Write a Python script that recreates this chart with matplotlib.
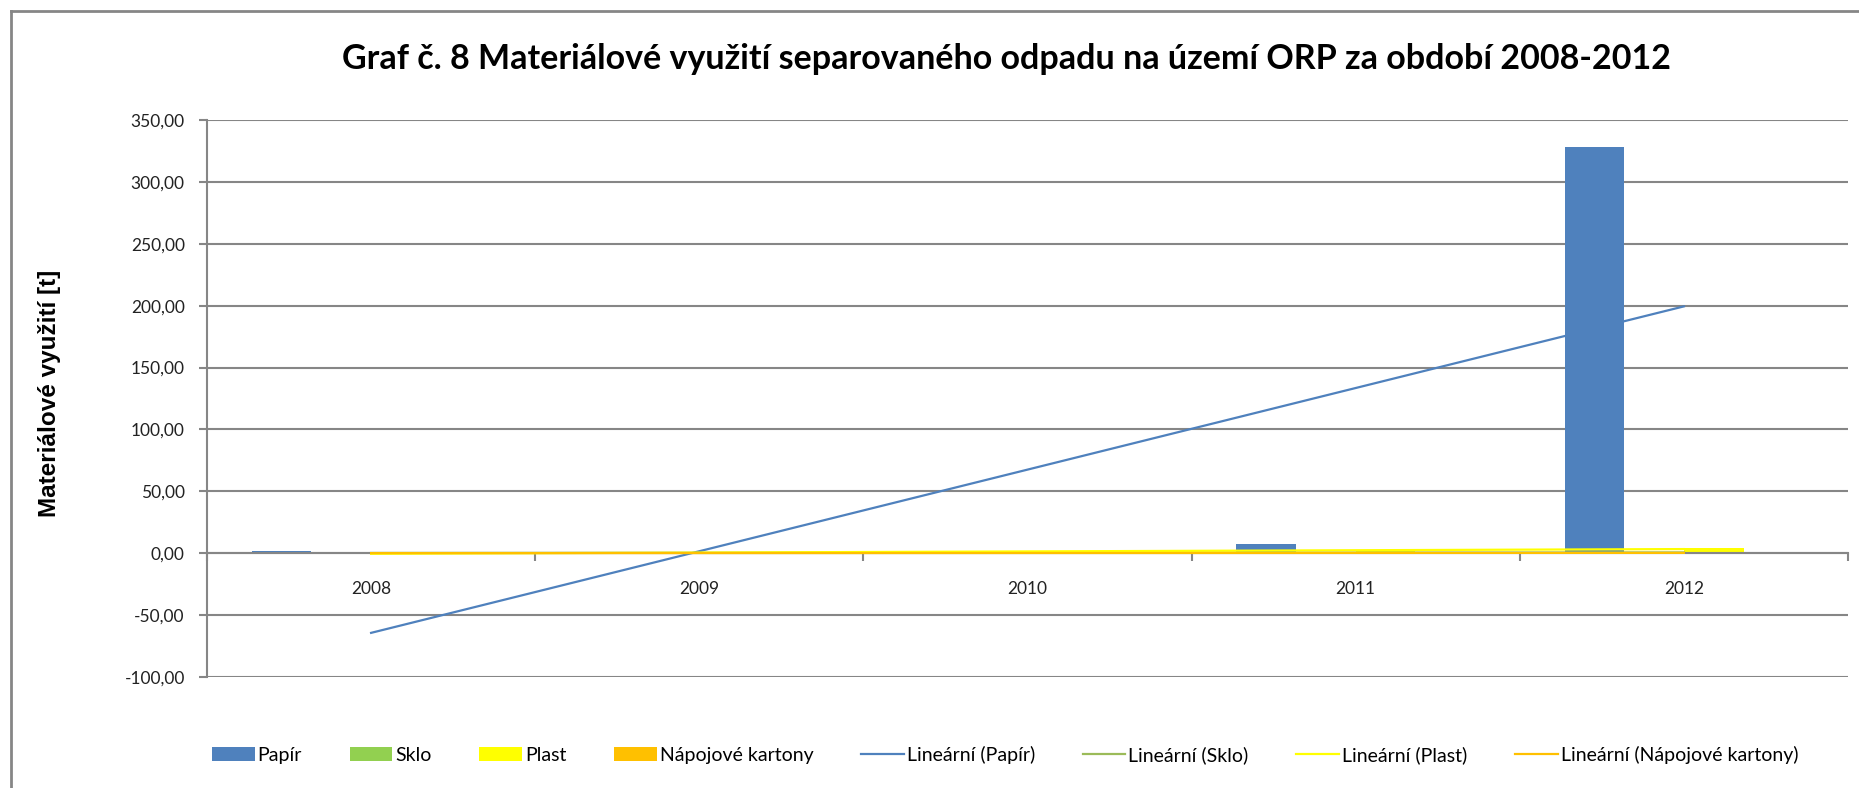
import numpy as np
import matplotlib.pyplot as plt
from matplotlib.ticker import FuncFormatter
from matplotlib.lines import Line2D

# data (t)
years = ['2008', '2009', '2010', '2011', '2012']
papir = [1.8, 0.3, 0.3, 7.3, 328.0]
sklo = [0.2, 0.3, 0.4, 0.5, 0.6]
plast = [0.3, 0.4, 0.6, 1.5, 4.5]
kartony = [0.1, 0.1, 0.2, 0.2, 0.3]

names = ['Papír', 'Sklo', 'Plast', 'Nápojové kartony']
bar_colors = ['#4F81BD', '#92D050', '#FFFF00', '#FFC000']
line_colors = ['#4F81BD', '#9BBB59', '#FFFF00', '#FFC000']
grey = '#868686'

plt.rcParams['font.family'] = ['Lato', 'DejaVu Sans']

W, H = 1859, 788
fig = plt.figure(figsize=(W / 100, H / 100), dpi=100)
ax = fig.add_axes([207 / W, 1 - 677 / H, (1848 - 207) / W, (677 - 120) / H])

x = np.arange(len(years))
w = 1 / 5.5
series = [papir, sklo, plast, kartony]
handles = []
for i, s in enumerate(series):
    b = ax.bar(x + (i - 1.5) * w, s, w, color=bar_colors[i], label=names[i], zorder=2)
    handles.append(b)

# linear trendlines like Excel
for i, s in enumerate(series):
    k, q = np.polyfit(x, s, 1)
    ln, = ax.plot(x, k * x + q, color=line_colors[i], lw=1.6,
                  label='Lineární (%s)' % names[i], zorder=3)
    handles.append(ln)

ax.set_xlim(-0.5, 4.5)
ax.set_ylim(-100, 350)
ax.set_yticks(range(-100, 351, 50))
ax.yaxis.set_major_formatter(FuncFormatter(lambda v, p: ('%.2f' % v).replace('.', ',')))
ax.grid(axis='y', color=grey, lw=1.5, zorder=0)
ax.set_axisbelow(True)

for sp in ['top', 'right']:
    ax.spines[sp].set_visible(False)
ax.spines['left'].set_color(grey)
ax.spines['left'].set_linewidth(1.5)
ax.spines['bottom'].set_position(('data', 0))
ax.spines['bottom'].set_color(grey)
ax.spines['bottom'].set_linewidth(1.5)

ax.set_xticks(x)
ax.set_xticklabels(years)
ax.set_xticks(np.arange(-0.5, 5, 1), minor=True)
ax.tick_params(axis='x', which='major', length=0, pad=20, labelsize=12.5, labelcolor='#222222')
ax.tick_params(axis='x', which='minor', length=6, width=1.5, color=grey, direction='out')
ax.tick_params(axis='y', length=6, width=1.5, color=grey, labelsize=12.5, labelcolor='#222222', pad=10)

fig.text(50 / W, 1 - 393 / H, 'Materiálové využití [t]', rotation=90, ha='center', va='center',
         fontsize=17.5, fontweight='bold', family=['Liberation Sans', 'DejaVu Sans'])

fig.text(1006 / W, 1 - 59 / H,
         'Graf č. 8 Materiálové využití separovaného odpadu na území ORP za období 2008-2012',
         ha='center', va='center', fontsize=24.5, fontweight='bold')

fig.legend(handles=handles, loc='center', bbox_to_anchor=(1005 / W, 1 - 755 / H), ncol=8,
           frameon=False, fontsize=14, handlelength=2.2, handleheight=0.7,
           handletextpad=0.15, columnspacing=2.45)

# outer chart border
fig.add_artist(Line2D([11 / W, 1], [1 - 11 / H, 1 - 11 / H], transform=fig.transFigure, color=grey, lw=2))
fig.add_artist(Line2D([11 / W, 11 / W], [0, 1 - 11 / H], transform=fig.transFigure, color=grey, lw=2))

fig.savefig('out.png', dpi=100)
